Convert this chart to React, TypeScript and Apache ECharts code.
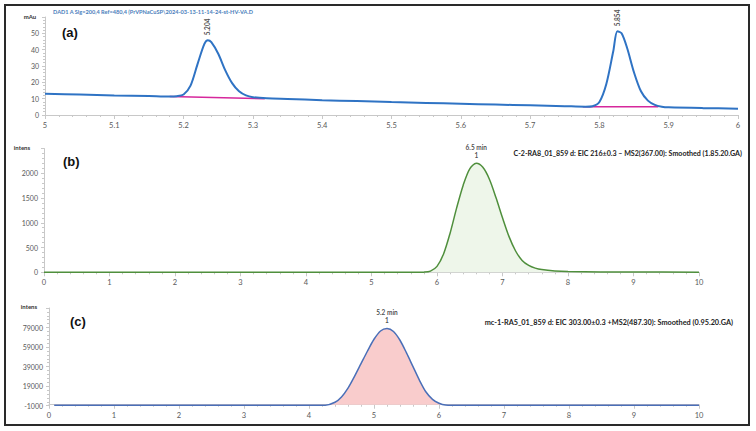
import React, { useEffect, useRef } from "react";
import * as echarts from "echarts";

// Panel (a): DAD trace (time, mAu)
const dadTrace: number[][] = [
  [5.0, 13.0], [5.05, 12.5], [5.1, 12.0], [5.15, 11.6], [5.18, 11.3], [5.19, 11.5],
  [5.2, 12.6], [5.21, 18], [5.22, 31], [5.23, 43.5], [5.235, 45.8], [5.24, 44.6],
  [5.25, 37.5], [5.26, 27.5], [5.27, 19.5], [5.28, 14.5], [5.29, 12.0], [5.3, 10.9],
  [5.32, 10.2], [5.35, 9.8], [5.4, 9.1], [5.45, 8.5], [5.5, 7.9], [5.55, 7.4],
  [5.6, 6.9], [5.65, 6.4], [5.7, 5.9], [5.75, 5.4], [5.78, 5.1], [5.79, 5.4],
  [5.8, 8.0], [5.81, 19], [5.82, 39], [5.826, 51.3], [5.832, 50.0], [5.84, 41],
  [5.85, 26], [5.86, 14.5], [5.87, 8.8], [5.88, 6.2], [5.89, 5.1], [5.9, 4.7],
  [5.95, 4.2], [6.0, 3.9],
];
const dadBaseline1: number[][] = [[5.18, 11.3], [5.317, 10.0]];
const dadBaseline2: number[][] = [[5.776, 5.0], [5.885, 5.0]];
const dadPeaks: { x: number; y: number; label: string }[] = [
  { x: 5.235, y: 45.8, label: "5.204" },
  { x: 5.826, y: 51.3, label: "5.854" },
];

// Panel (b): EIC 216 trace (time, intensity)
const eicB: number[][] = [
  [0, 0], [1, 0], [2, 0], [3, 0], [4, 0], [5, 0], [5.7, 0], [5.8, 3], [5.9, 25],
  [6.0, 120], [6.1, 370], [6.2, 790], [6.3, 1300], [6.4, 1760], [6.5, 2090],
  [6.6, 2200], [6.7, 2120], [6.8, 1880], [6.9, 1510], [7.0, 1100], [7.1, 720],
  [7.2, 430], [7.3, 240], [7.4, 140], [7.5, 85], [7.6, 55], [7.8, 28], [8.0, 16],
  [8.5, 8], [9.0, 5], [10.0, 3],
];
const peakB = { x: 6.6, y: 2200, label: "6.5 min\n1" };

// Panel (c): EIC 303 trace (time, intensity)
const eicC: number[][] = [
  [0.08, -600], [1, -600], [2, -600], [3, -600], [4, -600], [4.25, -500],
  [4.4, 2500], [4.5, 8000], [4.6, 17000], [4.7, 29000], [4.8, 42000], [4.9, 55000],
  [5.0, 67000], [5.1, 75500], [5.2, 78000], [5.3, 75000], [5.4, 66000], [5.5, 53000],
  [5.6, 39000], [5.7, 25000], [5.8, 13000], [5.9, 5500], [6.0, 1500], [6.1, -400],
  [6.2, -600], [7, -600], [8, -600], [9, -600], [10, -600],
];
const peakC = { x: 5.2, y: 78000, label: "5.2 min\n1" };

const titleA = "DAD1 A Sig=200,4 Ref=480,4 (PrVPNaCuSP\\2024-03-13-11-14-24-st-HV-VA.D";
const titleB = "C-2-RA8_01_859 d: EIC 216\u00b10.3 \u2013 MS2(367.00): Smoothed (1.85.20.GA)";
const titleC = "mc-1-RA5_01_859 d: EIC 303.00\u00b10.3 +MS2(487.30): Smoothed (0.95.20.GA)";

const FONT = "Lato, 'Open Sans', sans-serif";
const AXIS_COLOR = "#c8c8c8";
const LABEL_COLOR = "#595959";

function xAxisCommon(gridIndex: number, min: number, max: number, interval: number) {
  return {
    type: "value" as const,
    gridIndex,
    min,
    max,
    interval,
    axisLine: { show: true, lineStyle: { color: AXIS_COLOR, width: 1 } },
    axisTick: { show: true, length: 4, lineStyle: { color: AXIS_COLOR } },
    minorTick: { show: true, splitNumber: 5, length: 2, lineStyle: { color: AXIS_COLOR } },
    splitLine: { show: false },
    axisLabel: {
      color: LABEL_COLOR,
      fontSize: 7.5,
      fontFamily: FONT,
      margin: 6,
      formatter: (v: number) => String(Math.round(v * 1000) / 1000),
    },
  };
}

function yAxisCommon(gridIndex: number, min: number, max: number, interval: number) {
  return {
    type: "value" as const,
    gridIndex,
    min,
    max,
    interval,
    axisLine: { show: true, lineStyle: { color: AXIS_COLOR, width: 1 } },
    axisTick: { show: true, length: 3, lineStyle: { color: AXIS_COLOR } },
    minorTick: { show: true, splitNumber: 5, length: 2, lineStyle: { color: AXIS_COLOR } },
    splitLine: { show: false },
    axisLabel: {
      color: LABEL_COLOR,
      fontSize: 7,
      fontFamily: FONT,
      margin: 6,
      showMaxLabel: false,
      formatter: (v: number) => String(Math.round(v)),
    },
  };
}

function peakLabel(text: string) {
  return {
    show: true,
    formatter: text,
    position: "top",
    distance: 4,
    fontSize: 6.5,
    lineHeight: 8,
    fontWeight: "bold",
    fontFamily: FONT,
    color: "#222",
    align: "center",
  };
}

export default function App() {
  const ref = useRef<HTMLDivElement>(null);

  useEffect(() => {
    if (!ref.current) return;
    const chart = echarts.init(ref.current, null, { renderer: "svg" });

    const option: any = {
      animation: false,
      backgroundColor: "#ffffff",
      grid: [
        { left: 45, right: 18, top: 17, height: 98 },
        { left: 44, right: 57, top: 148.5, height: 123.8 },
        { left: 49, right: 57, top: 308, height: 97.7 },
      ],
      xAxis: [
        xAxisCommon(0, 5, 6, 0.1),
        xAxisCommon(1, 0, 10, 1),
        xAxisCommon(2, 0, 10, 1),
      ],
      yAxis: [
        yAxisCommon(0, 0, 60, 10),
        yAxisCommon(1, 0, 2500, 500),
        yAxisCommon(2, -1000, 99000, 20000),
      ],
      series: [
        {
          type: "line",
          xAxisIndex: 0,
          yAxisIndex: 0,
          data: dadBaseline1,
          showSymbol: false,
          lineStyle: { color: "#d6279c", width: 1.5 },
          z: 3,
        },
        {
          type: "line",
          xAxisIndex: 0,
          yAxisIndex: 0,
          data: dadBaseline2,
          showSymbol: false,
          lineStyle: { color: "#d6279c", width: 1.5 },
          z: 3,
        },
        {
          type: "line",
          xAxisIndex: 0,
          yAxisIndex: 0,
          data: dadTrace,
          showSymbol: false,
          smooth: 0.3,
          lineStyle: { color: "#2f73c4", width: 2 },
          z: 4,
        },
        {
          type: "scatter",
          xAxisIndex: 0,
          yAxisIndex: 0,
          symbolSize: 0,
          data: dadPeaks.map((p) => ({
            value: [p.x, p.y],
            label: {
              show: true,
              formatter: p.label,
              position: "top",
              distance: 5,
              rotate: 90,
              align: "left",
              verticalAlign: "middle",
              fontSize: 6.5,
              fontWeight: "bold",
              fontFamily: FONT,
              color: "#222",
            },
          })),
          z: 5,
        },
        {
          type: "line",
          xAxisIndex: 1,
          yAxisIndex: 1,
          data: eicB,
          showSymbol: false,
          smooth: 0.3,
          lineStyle: { color: "#4f8f3c", width: 1.5 },
          areaStyle: { color: "#eef6ea", opacity: 1 },
          z: 4,
        },
        {
          type: "scatter",
          xAxisIndex: 1,
          yAxisIndex: 1,
          symbolSize: 0,
          data: [{ value: [peakB.x, peakB.y], label: peakLabel(peakB.label) }],
          z: 5,
        },
        {
          type: "line",
          xAxisIndex: 2,
          yAxisIndex: 2,
          data: eicC,
          showSymbol: false,
          smooth: 0.3,
          lineStyle: { color: "#4a6fb8", width: 1.5 },
          areaStyle: { color: "#f9cccc", opacity: 1 },
          z: 4,
        },
        {
          type: "scatter",
          xAxisIndex: 2,
          yAxisIndex: 2,
          symbolSize: 0,
          data: [{ value: [peakC.x, peakC.y], label: peakLabel(peakC.label) }],
          z: 5,
        },
      ],
      graphic: [
        {
          type: "rect",
          shape: { x: 5, y: 5, width: 744, height: 420 },
          style: { fill: "none", stroke: "#2a2a2a", lineWidth: 2 },
          z: 100,
        },
        {
          type: "text",
          x: 53,
          y: 11,
          style: {
            text: titleA,
            fontSize: 5.6,
            fontWeight: "bold",
            fontFamily: FONT,
            fill: "#4a7ebb",
            verticalAlign: "middle",
          },
        },
        {
          type: "text",
          x: 30,
          y: 16,
          style: { text: "mAu", fontSize: 6, fontWeight: "bold", fontFamily: FONT, fill: "#333", align: "center", verticalAlign: "middle" },
        },
        {
          type: "text",
          x: 62,
          y: 32,
          style: { text: "(a)", fontSize: 13, fontWeight: "bold", fontFamily: "'Liberation Sans', Arial, sans-serif", fill: "#111", verticalAlign: "middle" },
        },
        {
          type: "text",
          x: 22,
          y: 147,
          style: { text: "intens", fontSize: 6, fontWeight: "bold", fontFamily: FONT, fill: "#333", align: "center", verticalAlign: "middle" },
        },
        {
          type: "text",
          x: 63,
          y: 161,
          style: { text: "(b)", fontSize: 13, fontWeight: "bold", fontFamily: "'Liberation Sans', Arial, sans-serif", fill: "#111", verticalAlign: "middle" },
        },
        {
          type: "text",
          x: 742,
          y: 153,
          style: { text: titleB, fontSize: 7.1, fontWeight: "bold", fontFamily: FONT, fill: "#222", align: "right", verticalAlign: "middle" },
        },
        {
          type: "text",
          x: 29,
          y: 306,
          style: { text: "intens", fontSize: 6, fontWeight: "bold", fontFamily: FONT, fill: "#333", align: "center", verticalAlign: "middle" },
        },
        {
          type: "text",
          x: 70,
          y: 321,
          style: { text: "(c)", fontSize: 13, fontWeight: "bold", fontFamily: "'Liberation Sans', Arial, sans-serif", fill: "#111", verticalAlign: "middle" },
        },
        {
          type: "text",
          x: 733,
          y: 322,
          style: { text: titleC, fontSize: 7.3, fontWeight: "bold", fontFamily: FONT, fill: "#222", align: "right", verticalAlign: "middle" },
        },
      ],
    };

    chart.setOption(option);
    return () => chart.dispose();
  }, []);

  return (
    <div
      ref={ref}
      style={{ position: "fixed", left: 0, top: 0, width: 756, height: 431, background: "#fff" }}
    />
  );
}
